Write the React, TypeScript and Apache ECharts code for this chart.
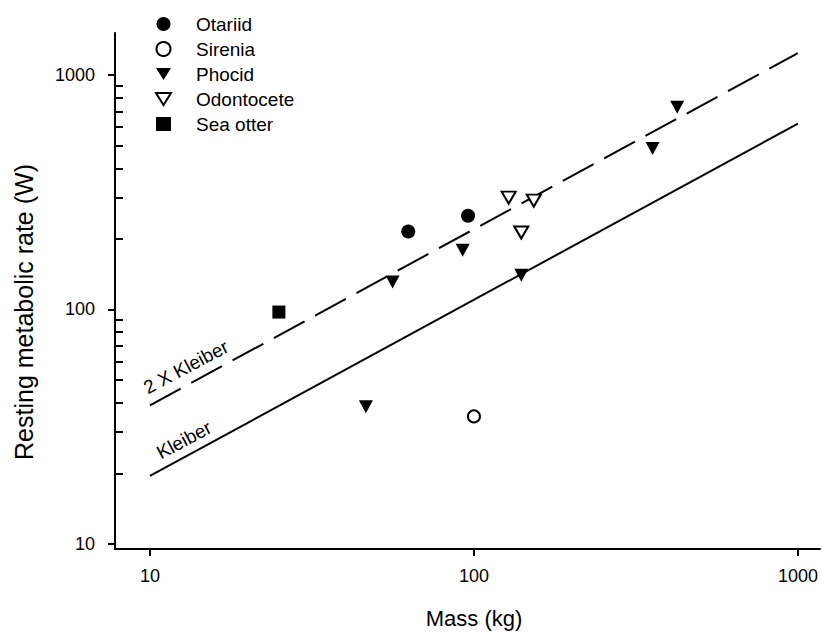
import React, { useEffect, useRef } from "react";
import * as echarts from "echarts";

// ---- data ----
const otariid: [number, number][] = [[62.7, 215], [95.9, 251]];
const sirenia: [number, number][] = [[100, 35]];
const phocid: [number, number][] = [[46.4, 38.5], [56.1, 131], [92.3, 179], [140, 140], [356, 486], [424, 728]];
const odontocete: [number, number][] = [[128, 300], [153, 291], [140, 213]];
const seaOtter: [number, number][] = [[25, 97.5]];
const kleiber: [number, number][] = [[10, 19.5], [1000, 620]];
const kleiber2x: [number, number][] = [[10, 39], [1000, 1240]];

const xTicks = [10, 100, 1000];
const yTicks = [10, 100, 1000];
const yMinorTicks = [20, 30, 40, 50, 60, 70, 80, 90, 200, 300, 400, 500, 600, 700, 800, 900];
const legendNames = ["Otariid", "Sirenia", "Phocid", "Odontocete", "Sea otter"];

const FONT = "'Liberation Sans', Arial, Helvetica, sans-serif";
const DOWN_TRIANGLE = "path://M0,0L15,0L7.5,12Z";

export default function App() {
  const ref = useRef<HTMLDivElement>(null);
  useEffect(() => {
    document.body.style.margin = "0";
    if (!ref.current) return;
    const chart = echarts.init(ref.current, null, { renderer: "svg" });
    const X_MIN = 7.8, X_MAX = 1170, Y_MIN = 9.52, Y_MAX = 1510;
    const black = "#000";
    const scatterBase = { type: "scatter", xAxisIndex: 0, yAxisIndex: 0, z: 5 };
    chart.setOption({
      animation: false,
      backgroundColor: "#fff",
      textStyle: { fontFamily: FONT, color: black },
      grid: { left: 115, right: 2, top: 33, bottom: 85, containLabel: false },
      legend: {
        orient: "vertical",
        left: 155,
        top: 14,
        padding: 0,
        itemWidth: 15,
        itemHeight: 14,
        itemGap: 5,
        selectedMode: false,
        textStyle: { fontFamily: FONT, fontSize: 19, lineHeight: 20, color: black, padding: [0, 0, 0, 20] },
        data: legendNames.map((n) =>
          n === "Phocid" || n === "Odontocete" ? { name: n, icon: DOWN_TRIANGLE } : { name: n }
        ),
      },
      xAxis: {
        type: "log",
        logBase: 10,
        min: X_MIN,
        max: X_MAX,
        name: "Mass (kg)",
        nameLocation: "middle",
        nameGap: 58,
        nameTextStyle: { fontFamily: FONT, fontSize: 22, color: black, padding: [0, 0, 0, 13] },
        axisLine: { show: true, onZero: false, lineStyle: { color: black, width: 2 } },
        axisTick: { show: true, inside: false, length: 7, lineStyle: { color: black, width: 2 }, customValues: xTicks },
        axisLabel: { show: true, margin: 18, fontSize: 18, color: black, fontFamily: FONT, customValues: xTicks, formatter: (v: number) => String(Math.round(v)) },
        splitLine: { show: false },
        minorTick: { show: false },
      },
      yAxis: [
        {
          type: "log",
          logBase: 10,
          min: Y_MIN,
          max: Y_MAX,
          position: "left",
          axisLine: { show: true, onZero: false, lineStyle: { color: black, width: 2 } },
          axisTick: { show: true, inside: false, length: 7, lineStyle: { color: black, width: 2 }, customValues: yTicks },
          axisLabel: { show: true, margin: 20, fontSize: 18, color: black, fontFamily: FONT, customValues: yTicks, formatter: (v: number) => String(Math.round(v)) },
          splitLine: { show: false },
        },
        {
          type: "log",
          logBase: 10,
          min: Y_MIN,
          max: Y_MAX,
          position: "left",
          offset: 0,
          axisLine: { show: false },
          axisTick: { show: true, inside: true, length: 8, lineStyle: { color: black, width: 2 }, customValues: yMinorTicks },
          axisLabel: { show: false },
          splitLine: { show: false },
        },
      ],
      graphic: [
        {
          type: "text",
          x: 24,
          y: 312,
          rotation: Math.PI / 2,
          style: { text: "Resting metabolic rate (W)", font: `25px ${FONT}`, fill: black, textAlign: "center", textVerticalAlign: "middle" },
          z: 10,
        },
        {
          type: "text",
          x: 186,
          y: 367,
          rotation: (28 * Math.PI) / 180,
          style: { text: "2 X Kleiber", font: `19px ${FONT}`, fill: black, textAlign: "center", textVerticalAlign: "middle" },
          z: 10,
        },
        {
          type: "text",
          x: 184,
          y: 440,
          rotation: (28 * Math.PI) / 180,
          style: { text: "Kleiber", font: `19px ${FONT}`, fill: black, textAlign: "center", textVerticalAlign: "middle" },
          z: 10,
        },
      ],
      series: [
        {
          name: "Kleiber",
          type: "line",
          data: kleiber,
          symbol: "none",
          lineStyle: { color: black, width: 2 },
          z: 3,
        },
        {
          name: "2 X Kleiber",
          type: "line",
          data: kleiber2x,
          symbol: "none",
          lineStyle: { color: black, width: 2, type: [35, 12] },
          z: 3,
        },
        {
          ...scatterBase,
          name: "Otariid",
          data: otariid,
          symbol: "circle",
          symbolSize: 14,
          itemStyle: { color: black, opacity: 1 },
        },
        {
          ...scatterBase,
          name: "Sirenia",
          data: sirenia,
          symbol: "circle",
          symbolSize: 12,
          itemStyle: { color: "#fff", borderColor: black, borderWidth: 2, opacity: 1 },
        },
        {
          ...scatterBase,
          name: "Phocid",
          data: phocid,
          symbol: "triangle",
          symbolRotate: 180,
          symbolSize: [14, 13],
          itemStyle: { color: black, opacity: 1 },
        },
        {
          ...scatterBase,
          name: "Odontocete",
          data: odontocete,
          symbol: "triangle",
          symbolRotate: 180,
          symbolSize: [14, 12],
          itemStyle: { color: "#fff", borderColor: black, borderWidth: 2, opacity: 1 },
        },
        {
          ...scatterBase,
          name: "Sea otter",
          data: seaOtter,
          symbol: "rect",
          symbolSize: 13,
          itemStyle: { color: black, opacity: 1 },
        },
      ],
    });
    return () => chart.dispose();
  }, []);
  return <div ref={ref} style={{ width: 822, height: 634 }} />;
}
